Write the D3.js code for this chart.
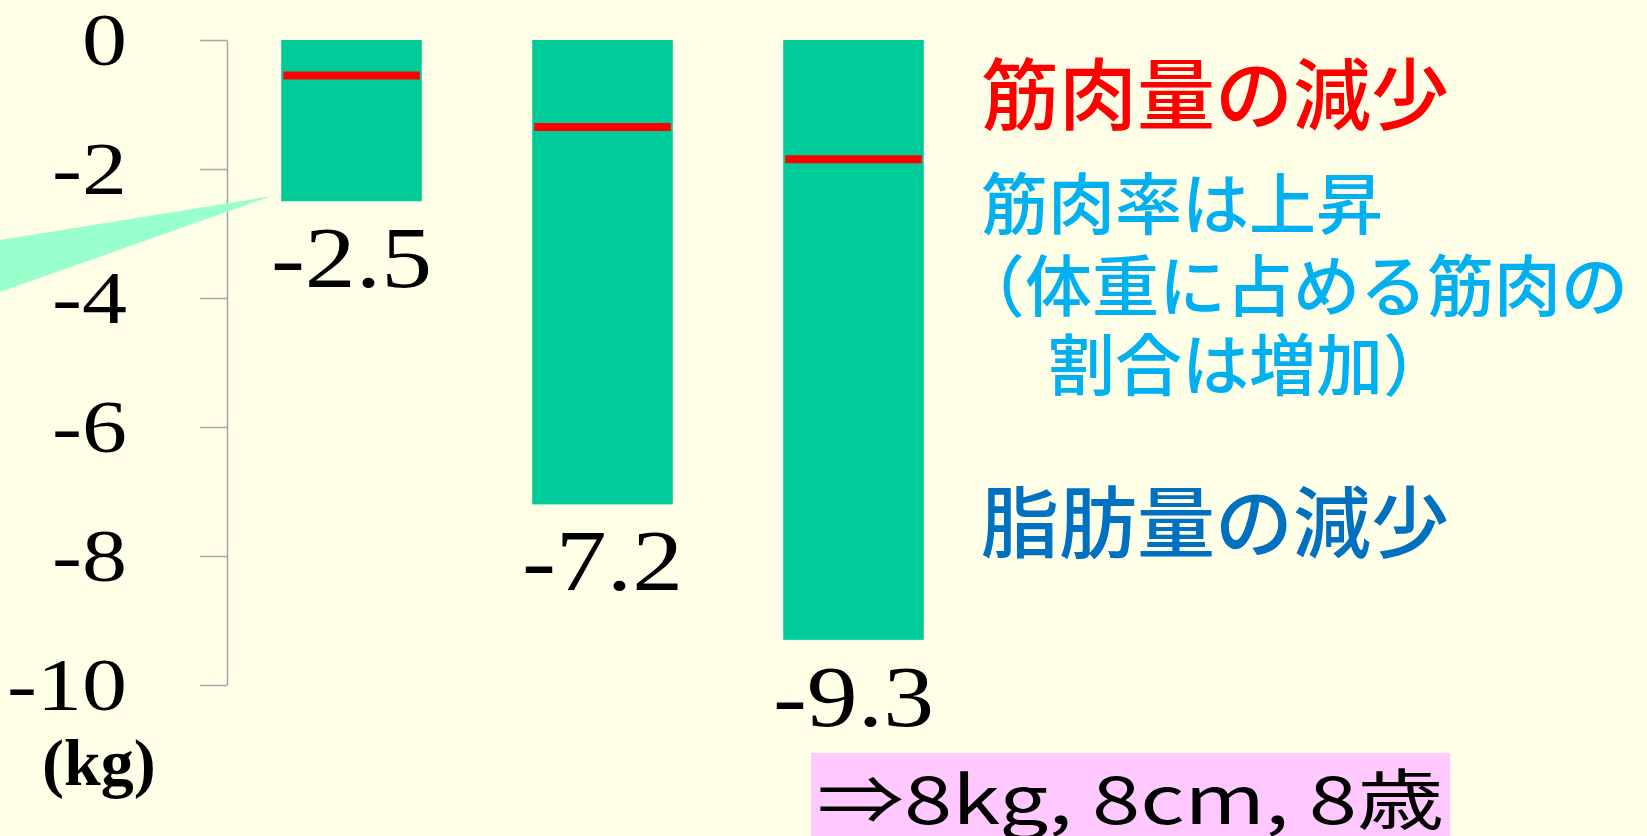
<!DOCTYPE html>
<html>
<head>
<meta charset="utf-8">
<script src="https://cdn.jsdelivr.net/npm/d3@7"></script>
<style>
    body { margin: 0; background: #FFFFE8; }
    svg { display: block; }
    .tickText { font-family: "Liberation Serif", "DejaVu Serif", serif; font-size: 75px; fill: #000; }
    .valueText { font-family: "Liberation Serif", "DejaVu Serif", serif; font-size: 87px; fill: #000; }
    .jp { font-family: "Noto Sans CJK JP", "Noto Sans", sans-serif; font-weight: 500; }
</style>
</head>
<body>
<div id="chartContainer"></div>
<script>
/***** Chart data */

// three bars, change in body weight (kg)
const categories = ['A', 'B', 'C'];
const weightChange = [-2.5, -7.2, -9.3];
// red marks: change in muscle mass (kg)
const muscleChange = [-0.55, -1.35, -1.85];
const yTicks = [0, -2, -4, -6, -8, -10];

const noteLines = [
    ['筋肉量の減少', '#FF0000', 78],
    ['筋肉率は上昇', '#00B0F0', 67],
    ['（体重に占める筋肉の', '#00B0F0', 67],
    ['割合は増加）', '#00B0F0', 67],
    ['脂肪量の減少', '#0070C0', 78]
];
const summaryText = '⇒8kg, 8cm, 8歳';

/***** Drawing */

const width = 1647;
const height = 836;

const svg = d3.select('#chartContainer').append('svg')
    .attr('width', width)
    .attr('height', height);

svg.append('rect')
    .attr('width', width)
    .attr('height', height)
    .attr('fill', '#FFFFE8');

const y = d3.scaleLinear()
    .domain([0, -10])
    .range([40, 685]);

const x = d3.scaleBand()
    .domain(categories)
    .range([226, 979])
    .paddingInner(0.44)
    .paddingOuter(0.22);

// y axis, gray line with ticks on the left
const axisX = 227;
const axisGroup = svg.append('g')
    .attr('transform', `translate(${axisX},0)`)
    .call(d3.axisLeft(y)
        .tickValues(yTicks)
        .tickSize(27)
        .tickSizeOuter(0)
        .tickPadding(73)
        .tickFormat(d => String(d)));

axisGroup.attr('font-size', null).attr('font-family', null);
axisGroup.select('.domain').attr('stroke', '#A6A6A6').attr('stroke-width', 1.5);
axisGroup.selectAll('.tick line').attr('stroke', '#A6A6A6').attr('stroke-width', 1.5);

// labels are drawn a bit wider than the plain font
const stretch = 1.2;
axisGroup.selectAll('.tick text')
    .attr('class', 'tickText')
    .attr('x', -100 / stretch)
    .attr('dy', '0.32em')
    .attr('transform', `scale(${stretch},1)`);

// unit
svg.append('text')
    .attr('x', 42)
    .attr('y', 785)
    .style('font-family', '"Liberation Serif", serif')
    .style('font-weight', 'bold')
    .style('font-size', '66px')
    .text('(kg)');

// callout wedge pointing at the first bar
const firstX = x(categories[0]);
const firstY = y(weightChange[0]);
svg.append('path')
    .attr('d', `M0,240 L${firstX - 10},${firstY - 5} L0,292 Z`)
    .attr('fill', '#99FFCC');

// bars
const bars = svg.selectAll('.bar')
    .data(weightChange);
bars.enter()
    .append('rect')
    .attr('class', 'bar')
    .attr('x', (d, i) => x(categories[i]))
    .attr('y', y(0))
    .attr('width', x.bandwidth())
    .attr('height', d => y(d) - y(0))
    .attr('fill', '#00CC99');

// red muscle marks
const marks = svg.selectAll('.muscleMark')
    .data(muscleChange);
marks.enter()
    .append('line')
    .attr('class', 'muscleMark')
    .attr('x1', (d, i) => x(categories[i]) + 2)
    .attr('x2', (d, i) => x(categories[i]) + x.bandwidth() - 2)
    .attr('y1', d => y(d))
    .attr('y2', d => y(d))
    .attr('stroke', '#FF0000')
    .attr('stroke-width', 8);

// value labels under bars
const valueStretch = 1.17;
svg.selectAll('.valueText')
    .data(weightChange)
    .enter()
    .append('text')
    .attr('class', 'valueText')
    .attr('text-anchor', 'middle')
    .attr('transform', (d, i) => {
        const cx = x(categories[i]) + x.bandwidth() / 2;
        return `translate(${cx},${y(d) + 86}) scale(${valueStretch},1)`;
    })
    .text(d => d.toFixed(1));

// notes on the right
const notePos = [[981, 124], [981, 229], [958, 311], [1048, 390], [981, 552]];
svg.selectAll('.note')
    .data(noteLines)
    .enter()
    .append('text')
    .attr('class', 'note jp')
    .attr('x', (d, i) => notePos[i][0])
    .attr('y', (d, i) => notePos[i][1])
    .attr('fill', d => d[1])
    .style('font-size', d => `${d[2]}px`)
    .text(d => d[0]);

// summary box
svg.append('rect')
    .attr('x', 811)
    .attr('y', 753)
    .attr('width', 639)
    .attr('height', 83)
    .attr('fill', '#FFC9FF');

svg.append('text')
    .attr('class', 'jp')
    .attr('x', 817)
    .attr('y', 824)
    .attr('textLength', 627)
    .attr('lengthAdjust', 'spacingAndGlyphs')
    .style('font-size', '66px')
    .style('font-weight', 400)
    .attr('fill', '#000')
    .text(summaryText);
</script>
</body>
</html>
